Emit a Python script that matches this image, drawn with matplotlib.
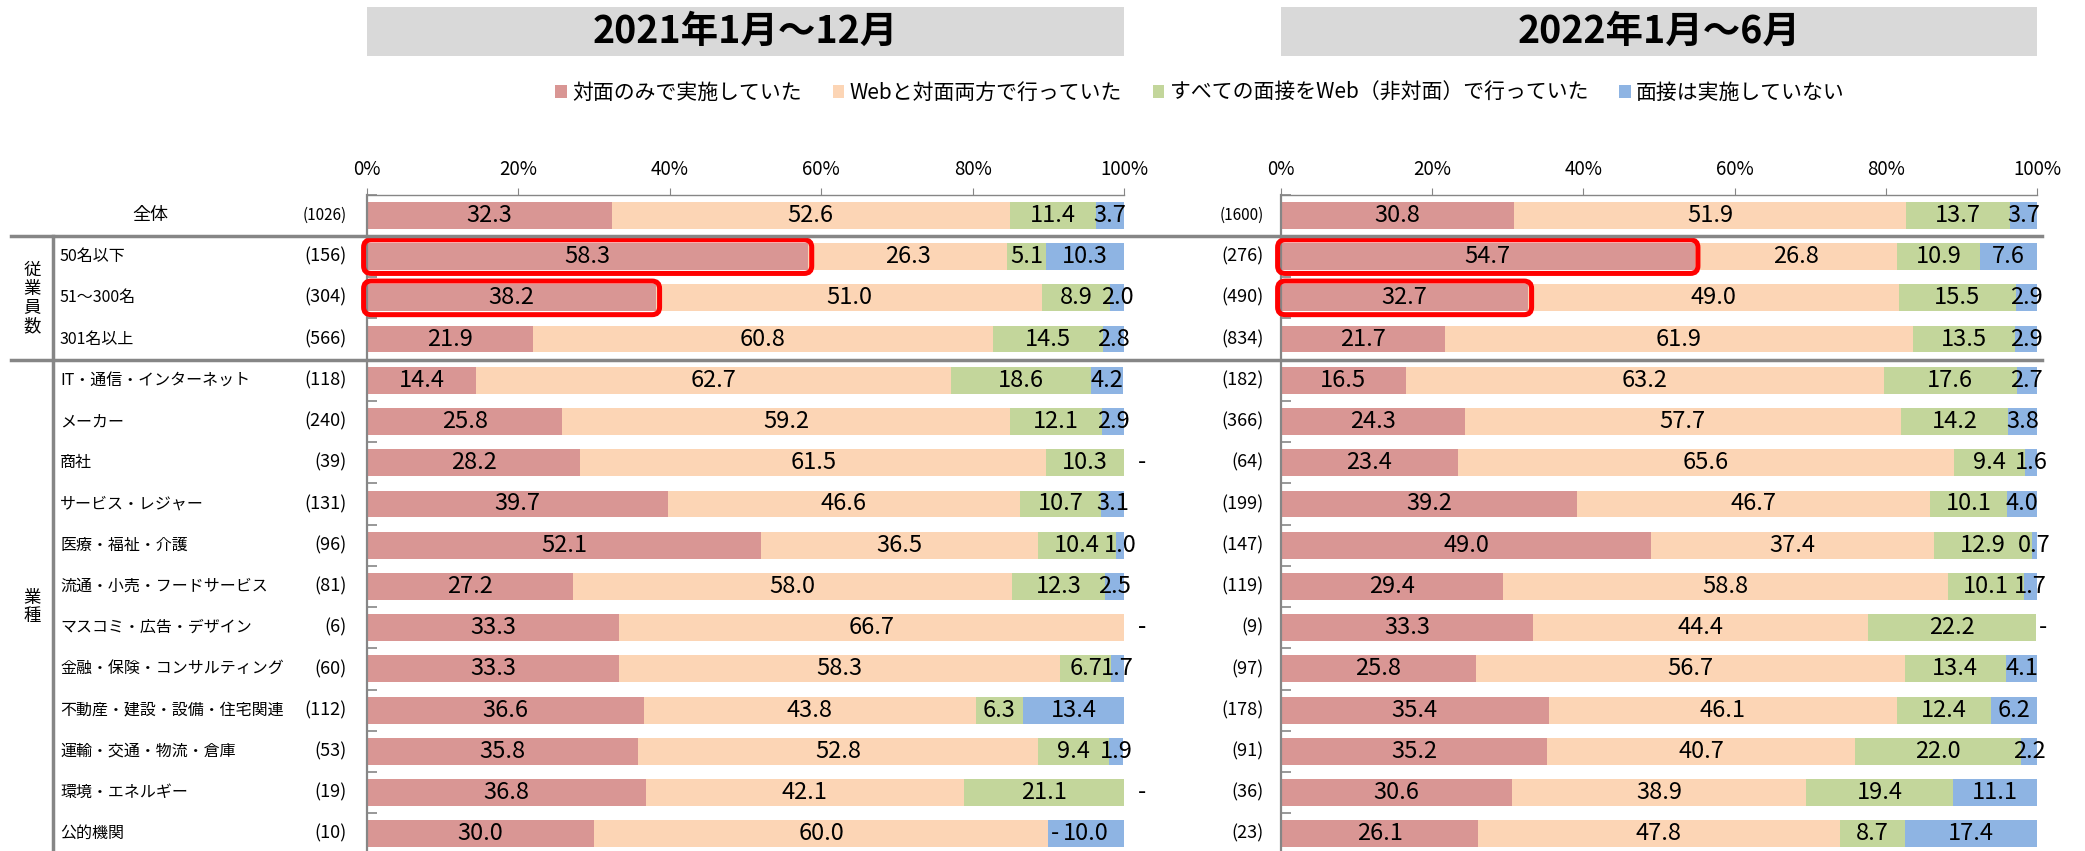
import matplotlib
matplotlib.use("Agg")
import matplotlib.pyplot as plt
import matplotlib.patches as mpatches
import matplotlib.transforms as mtransforms
from matplotlib.lines import Line2D
import numpy as np

plt.rcParams["font.family"] = ["Noto Sans CJK JP", "DejaVu Sans"]

SERIES = ["対面のみで実施していた", "Webと対面両方で行っていた",
          "すべての面接をWeb（非対面）で行っていた", "面接は実施していない"]
COLORS = ["#d99694", "#fcd5b5", "#c3d69b", "#8eb4e3"]
PERIODS = ["2021年1月～12月", "2022年1月～6月"]

ROWS = ["全体", "50名以下", "51～300名", "301名以上",
        "IT・通信・インターネット", "メーカー", "商社", "サービス・レジャー",
        "医療・福祉・介護", "流通・小売・フードサービス", "マスコミ・広告・デザイン",
        "金融・保険・コンサルティング", "不動産・建設・設備・住宅関連",
        "運輸・交通・物流・倉庫", "環境・エネルギー", "公的機関"]
GROUPS = [("従業員数", 1, 3), ("業種", 4, 15)]
HIGHLIGHT = [1, 2]  # 50名以下, 51～300名 の「対面のみ」を赤枠で強調

N_2021 = [1026, 156, 304, 566, 118, 240, 39, 131, 96, 81, 6, 60, 112, 53, 19, 10]
N_2022 = [1600, 276, 490, 834, 182, 366, 64, 199, 147, 119, 9, 97, 178, 91, 36, 23]

FACE_2021 = [32.3, 58.3, 38.2, 21.9, 14.4, 25.8, 28.2, 39.7, 52.1, 27.2, 33.3, 33.3, 36.6, 35.8, 36.8, 30.0]
BOTH_2021 = [52.6, 26.3, 51.0, 60.8, 62.7, 59.2, 61.5, 46.6, 36.5, 58.0, 66.7, 58.3, 43.8, 52.8, 42.1, 60.0]
WEB_2021 = [11.4, 5.1, 8.9, 14.5, 18.6, 12.1, 10.3, 10.7, 10.4, 12.3, 0.0, 6.7, 6.3, 9.4, 21.1, 0.0]
NONE_2021 = [3.7, 10.3, 2.0, 2.8, 4.2, 2.9, 0.0, 3.1, 1.0, 2.5, 0.0, 1.7, 13.4, 1.9, 0.0, 10.0]

FACE_2022 = [30.8, 54.7, 32.7, 21.7, 16.5, 24.3, 23.4, 39.2, 49.0, 29.4, 33.3, 25.8, 35.4, 35.2, 30.6, 26.1]
BOTH_2022 = [51.9, 26.8, 49.0, 61.9, 63.2, 57.7, 65.6, 46.7, 37.4, 58.8, 44.4, 56.7, 46.1, 40.7, 38.9, 47.8]
WEB_2022 = [13.7, 10.9, 15.5, 13.5, 17.6, 14.2, 9.4, 10.1, 12.9, 10.1, 22.2, 13.4, 12.4, 22.0, 19.4, 8.7]
NONE_2022 = [3.7, 7.6, 2.9, 2.9, 2.7, 3.8, 1.6, 4.0, 0.7, 1.7, 0.0, 4.1, 6.2, 2.2, 11.1, 17.4]

XTICKS = [0, 20, 40, 60, 80, 100]
GRAY = "#868686"

W, H = 2085, 851
fig = plt.figure(figsize=(W / 100, H / 100), dpi=100)
ax_top = 1 - 194.8 / H
ax_h = (854.4 - 194.8) / H
ax1 = fig.add_axes([367 / W, ax_top - ax_h, 757 / W, ax_h])
ax2 = fig.add_axes([1281 / W, ax_top - ax_h, 756 / W, ax_h])


def draw_panel(ax, stacks):
    y = np.arange(len(ROWS))
    left = np.zeros(len(ROWS))
    handles = []
    for vals, color, name in zip(stacks, COLORS, SERIES):
        vals = np.asarray(vals, dtype=float)
        bc = ax.barh(y, vals, left=left, height=0.65, color=color, label=name)
        handles.append(bc)
        for yi, l, v in zip(y, left, vals):
            if v > 0:
                ax.text(l + v / 2, yi, f"{v:.1f}", ha="center", va="center",
                        fontsize=17, clip_on=False)
            else:
                # 0 は「-」表示（棒の右端では少し離す）
                off = 1.8 if l >= 99.9 else 0.3
                ax.text(l + off, yi, "-", ha="left", va="center",
                        fontsize=17, clip_on=False)
        left += vals

    # 強調枠（角丸）：x と y のスケール差を mutation_aspect で補正
    fig.canvas.draw()
    bb = ax.get_window_extent()
    aspect = (bb.width / 100) / (bb.height / len(ROWS))
    first = np.asarray(stacks[0], dtype=float)
    for r in HIGHLIGHT:
        box = mpatches.FancyBboxPatch(
            (0, r - 0.325), first[r], 0.65,
            boxstyle="round,pad=0.45,rounding_size=1.0",
            mutation_aspect=aspect, fc="none", ec="#ff0000", lw=3.6,
            zorder=5, clip_on=False)
        ax.add_patch(box)

    ax.set_xlim(0, 100)
    ax.set_ylim(len(ROWS) - 0.5, -0.5)
    ax.xaxis.tick_top()
    ax.set_xticks(XTICKS)
    ax.set_xticklabels([f"{t}%" for t in XTICKS])
    ax.tick_params(axis="x", direction="out", length=5, color=GRAY,
                   labelsize=13.5, pad=6)
    ax.set_yticks(np.arange(-0.5, len(ROWS) + 0.5))
    ax.set_yticklabels([])
    ax.tick_params(axis="y", direction="in", length=7, width=1.2, color=GRAY)
    for side in ("bottom", "right"):
        ax.spines[side].set_visible(False)
    ax.spines["top"].set_color(GRAY)
    ax.spines["top"].set_linewidth(1.0)
    ax.spines["left"].set_color(GRAY)
    ax.spines["left"].set_linewidth(1.6)
    return handles


handles = draw_panel(ax1, [FACE_2021, BOTH_2021, WEB_2021, NONE_2021])
draw_panel(ax2, [FACE_2022, BOTH_2022, WEB_2022, NONE_2022])

# 期間タイトル（灰色の帯）
for ax, period in zip([ax1, ax2], PERIODS):
    pos = ax.get_position()
    fig.add_artist(mpatches.Rectangle((pos.x0, 1 - 56 / H), pos.width, 49 / H,
                                      transform=fig.transFigure,
                                      fc="#d9d9d9", ec="none"))
    fig.text(pos.x0 + pos.width / 2, 1 - 31.5 / H, period, ha="center",
             va="center", fontsize=27, fontweight="bold")

fig.legend(handles, SERIES, ncol=4, loc="center",
           bbox_to_anchor=(1200 / W, 1 - 93 / H), frameon=False, fontsize=15,
           handlelength=0.55, handleheight=0.55, handletextpad=0.25,
           columnspacing=1.5)

# 行ラベル・回答数
tr = mtransforms.blended_transform_factory(fig.transFigure, ax1.transData)
for i, (name, n1, n2) in enumerate(zip(ROWS, N_2021, N_2022)):
    if i == 0:
        fig.text(150 / W, i, name, transform=tr, ha="center", va="center",
                 fontsize=13)
    else:
        fig.text(60 / W, i, name, transform=tr, ha="left", va="center",
                 fontsize=11.5)
    for n, x in ((n1, 347 / W), (n2, 1264 / W)):
        fs = 11 if n >= 1000 else 13
        fig.text(x, i, f"({n})", transform=tr, ha="right", va="center",
                 fontsize=fs)

for label, r0, r1 in GROUPS:
    fig.text(32 / W, (r0 + r1) / 2, "\n".join(label), transform=tr,
             ha="center", va="center", fontsize=12.5, linespacing=1.05)

# 区切り線
for ysep in (0.5, 3.5):
    fig.add_artist(Line2D([11 / W, 2042 / W], [ysep, ysep], transform=tr,
                          color=GRAY, lw=2.5))
fig.add_artist(Line2D([53 / W, 53 / W], [0.5, len(ROWS) + 0.5], transform=tr,
                      color=GRAY, lw=2.5))

fig.savefig("out.png", dpi=100)
